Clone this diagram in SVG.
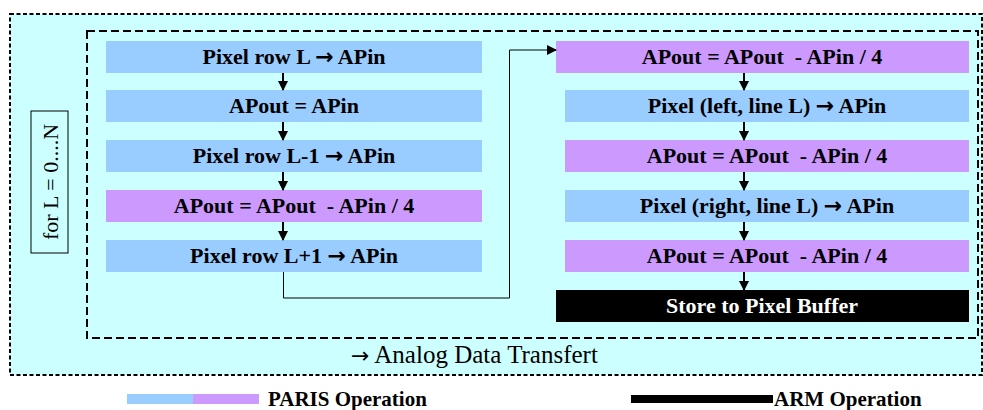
<svg xmlns="http://www.w3.org/2000/svg" width="983" height="410" viewBox="0 0 983 410">
<style>
.b{fill:#99CCFF}
.p{fill:#CC99FF}
.k{fill:#000000}
.t{font-family:"Liberation Serif","Times New Roman",serif;font-weight:bold;font-size:22px;fill:#000;text-anchor:middle}
.w{fill:#fff}
.a{font-family:"DejaVu Sans",sans-serif;font-weight:bold}
.c{stroke:#000;stroke-width:2;fill:none}
</style>
<defs>
<marker id="ah" markerWidth="10" markerHeight="10" refX="9" refY="5" orient="auto" markerUnits="userSpaceOnUse">
<path d="M0,0 L10,5 L0,10 Z" fill="#000"/>
</marker>
</defs>
<rect x="10" y="14" width="972" height="361" fill="#CCFFFF" stroke="#000" stroke-width="2" stroke-dasharray="4,2.5"/>
<rect x="87" y="31" width="891" height="307" fill="none" stroke="#000" stroke-width="2" stroke-dasharray="8,4"/>
<g id="loop">
<rect x="31" y="111" width="37" height="142" fill="none" stroke="#000" stroke-width="1"/>
<text transform="translate(58,182) rotate(-90)" font-family="Liberation Serif,serif" font-size="22" text-anchor="middle">for L = 0....N</text>
</g>
<g id="l1"><rect class="b" x="106" y="41" width="376" height="32"/><text class="t" x="294" y="64">Pixel row L <tspan class="a">→</tspan> APin</text></g>
<g id="l2"><rect class="b" x="106" y="90" width="376" height="32"/><text class="t" x="294" y="113">APout = APin</text></g>
<g id="l3"><rect class="b" x="106" y="140" width="376" height="32"/><text class="t" x="294" y="163">Pixel row L-1 <tspan class="a">→</tspan> APin</text></g>
<g id="l4"><rect class="p" x="106" y="190" width="376" height="32"/><text class="t" x="294" y="213" xml:space="preserve">APout = APout  - APin / 4</text></g>
<g id="l5"><rect class="b" x="106" y="240" width="376" height="32"/><text class="t" x="294" y="263">Pixel row L+1 <tspan class="a">→</tspan> APin</text></g>
<g id="r1"><rect class="p" x="556" y="41" width="413" height="32"/><text class="t" x="762" y="64" xml:space="preserve">APout = APout  - APin / 4</text></g>
<g id="r2"><rect class="b" x="565" y="90" width="404" height="32"/><text class="t" x="767" y="113">Pixel (left, line L) <tspan class="a">→</tspan> APin</text></g>
<g id="r3"><rect class="p" x="565" y="140" width="404" height="32"/><text class="t" x="767" y="163" xml:space="preserve">APout = APout  - APin / 4</text></g>
<g id="r4"><rect class="b" x="565" y="190" width="404" height="32"/><text class="t" x="767" y="213">Pixel (right, line L) <tspan class="a">→</tspan> APin</text></g>
<g id="r5"><rect class="p" x="565" y="240" width="404" height="32"/><text class="t" x="767" y="263" xml:space="preserve">APout = APout  - APin / 4</text></g>
<g id="r6"><rect class="k" x="556" y="290" width="413" height="32"/><text class="t w" x="762" y="313">Store to Pixel Buffer</text></g>
<g id="connectors">
<line class="c" x1="283" y1="73" x2="283" y2="90" marker-end="url(#ah)"/>
<line class="c" x1="283" y1="122" x2="283" y2="140" marker-end="url(#ah)"/>
<line class="c" x1="283" y1="172" x2="283" y2="190" marker-end="url(#ah)"/>
<line class="c" x1="283" y1="222" x2="283" y2="240" marker-end="url(#ah)"/>
<line class="c" x1="744" y1="73" x2="744" y2="90" marker-end="url(#ah)"/>
<line class="c" x1="744" y1="122" x2="744" y2="140" marker-end="url(#ah)"/>
<line class="c" x1="744" y1="172" x2="744" y2="190" marker-end="url(#ah)"/>
<line class="c" x1="744" y1="222" x2="744" y2="240" marker-end="url(#ah)"/>
<line class="c" x1="744" y1="272" x2="744" y2="290" marker-end="url(#ah)"/>
<polyline points="283.5,272 283.5,298 509.5,298 509.5,50 556,50" fill="none" stroke="#000" stroke-width="1" marker-end="url(#ah)"/>
</g>
<text x="351" y="363" font-family="Liberation Serif,serif" font-size="25"><tspan font-family="DejaVu Sans,sans-serif" font-size="22">→</tspan> Analog Data Transfert</text>
<g id="legend">
<rect class="b" x="127" y="394" width="66" height="10"/>
<rect class="p" x="193" y="394" width="66" height="10"/>
<text x="268" y="406" font-family="Liberation Serif,serif" font-weight="bold" font-size="21">PARIS Operation</text>
<rect class="k" x="631" y="395" width="142" height="8"/>
<text x="774" y="406" font-family="Liberation Serif,serif" font-weight="bold" font-size="21">ARM Operation</text>
</g>
</svg>
